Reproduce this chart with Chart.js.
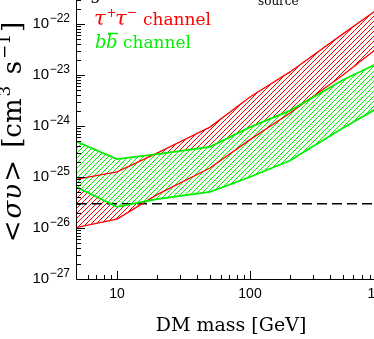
<!DOCTYPE html>
<html><head><meta charset="utf-8">
<script src="https://cdn.jsdelivr.net/npm/chart.js@4"></script>
<style>
html,body{margin:0;padding:0;background:#fff;overflow:hidden;width:374px;height:339px;}
#wrap{position:absolute;left:0;top:-40px;width:420px;height:380px;}
</style></head><body>
<div id="wrap"><canvas id="c" width="420" height="380"></canvas></div>
<script>
// ---- data ----
const masses   = [5, 10, 20, 50, 100, 200, 500, 1000];           // GeV
const tauUpper = [9.1e-26, 1.26e-25, 2.95e-25, 9.5e-25, 3.7e-24, 1.15e-23, 6.4e-23, 2.3e-22];
const tauLower = [1.03e-26, 1.5e-26, 4.5e-26, 1.5e-25, 5.4e-25, 1.8e-24, 1.0e-23, 4.1e-23];
const bbUpper  = [4.9e-25, 2.25e-25, 2.8e-25, 3.9e-25, 9.5e-25, 2.0e-24, 8.0e-24, 1.9e-23];
const bbLower  = [6.3e-26, 2.6e-26, 3.7e-26, 5.1e-26, 1.0e-25, 2.1e-25, 9.1e-25, 2.6e-24];
const thermalMass  = [5, 1000];
const thermalValue = [3e-26, 3e-26];

const xMajorTicks  = [10, 100, 1000];
const xMajorLabels = ['10', '100', '1000'];
const xMinorTicks  = [6,7,8,9,20,30,40,50,60,70,80,90,200,300,400,500,600,700,800,900];
const yMajorTicks  = [1e-27, 1e-26, 1e-25, 1e-24, 1e-23, 1e-22, 1e-21];
const yMajorExps   = ['−27', '−26', '−25', '−24', '−23', '−22', '−21'];
const yMinorMults  = [2,3,4,5,6,7,8,9];

const RED = '#ff0000', GREEN = '#00f000';
const canvas = document.getElementById('c');
const ctx0 = canvas.getContext('2d');

function hatch(color, bg) {
  const s = 5;
  const c = document.createElement('canvas'); c.width = s; c.height = s;
  const g = c.getContext('2d');
  if (bg) { g.fillStyle = bg; g.fillRect(0, 0, s, s); }
  g.strokeStyle = color; g.lineWidth = 1;
  g.beginPath();
  g.moveTo(0, s); g.lineTo(s, 0);
  g.moveTo(-1, 1); g.lineTo(1, -1);
  g.moveTo(s - 1, s + 1); g.lineTo(s + 1, s - 1);
  g.stroke();
  return ctx0.createPattern(c, 'repeat');
}
const pts = (xs, ys) => xs.map((m, i) => ({x: m, y: ys[i]}));

function pieces(ctx, list, x, y) {
  let cx = x;
  for (const p of list) {
    ctx.font = p.f;
    ctx.fillText(p.t, cx + (p.dx || 0), y + (p.dy || 0));
    cx += ctx.measureText(p.t).width + (p.dx || 0);
  }
  return cx;
}
function widthOf(ctx, list) {
  let w = 0;
  for (const p of list) { ctx.font = p.f; w += ctx.measureText(p.t).width + (p.dx || 0); }
  return w;
}

const decor = {
  id: 'decor',
  afterDraw(chart) {
    const {ctx, chartArea: a, scales: {x, y}} = chart;
    ctx.save();
    ctx.strokeStyle = '#000'; ctx.fillStyle = '#000'; ctx.lineWidth = 1;
    // frame
    ctx.beginPath();
    ctx.moveTo(a.left - 0.5, a.top); ctx.lineTo(a.left - 0.5, a.bottom + 0.5);
    ctx.lineTo(a.right, a.bottom + 0.5); ctx.lineTo(a.right, a.top); ctx.lineTo(a.left - 0.5, a.top);
    ctx.stroke();
    // x ticks (inward)
    ctx.beginPath();
    xMajorTicks.forEach(v => { const px = Math.round(x.getPixelForValue(v)) + 0.5; ctx.moveTo(px, a.bottom); ctx.lineTo(px, a.bottom - 8); ctx.moveTo(px, a.top); ctx.lineTo(px, a.top + 8); });
    xMinorTicks.forEach(v => { const px = Math.round(x.getPixelForValue(v)) + 0.5; ctx.moveTo(px, a.bottom); ctx.lineTo(px, a.bottom - 4); ctx.moveTo(px, a.top); ctx.lineTo(px, a.top + 4); });
    // y ticks (inward)
    yMajorTicks.forEach(v => { const py = Math.round(y.getPixelForValue(v)) + 0.5; ctx.moveTo(a.left, py); ctx.lineTo(a.left + 8, py); });
    yMajorTicks.slice(0, -1).forEach(v => yMinorMults.forEach(m => {
      const py = Math.round(y.getPixelForValue(v * m)) + 0.5; ctx.moveTo(a.left, py); ctx.lineTo(a.left + 4, py);
    }));
    ctx.stroke();
    // x tick labels
    ctx.textAlign = 'center'; ctx.textBaseline = 'alphabetic';
    ctx.font = '14px "Liberation Sans"';
    xMajorTicks.forEach((v, i) => ctx.fillText(xMajorLabels[i], x.getPixelForValue(v), a.bottom + 19));
    // y tick labels
    yMajorTicks.forEach((v, i) => {
      const py = y.getPixelForValue(v);
      ctx.font = '12px "Liberation Sans"';
      const sw = ctx.measureText(yMajorExps[i]).width;
      const sx = 70 - sw;
      ctx.textAlign = 'left'; ctx.fillText(yMajorExps[i], sx, py - 2);
      ctx.font = '15px "Liberation Sans"'; ctx.textAlign = 'right';
      ctx.fillText('10', sx - 0.5, py + 4);
    });
    ctx.textAlign = 'left';
    // axis titles
    ctx.font = '19px "DejaVu Serif"';
    const xt = 'DM mass [GeV]';
    ctx.fillText(xt, 231 - ctx.measureText(xt).width / 2, a.bottom + 52);
    const F = '26px "DejaVu Serif"', FI = 'italic 26px "DejaVu Serif"', FS = '17px "DejaVu Serif"';
    const ylab = [
      {t: '<', f: F},
      {t: 'σ', f: FI, dx: 2},
      {t: 'υ', f: FI, dx: 1},
      {t: '>', f: F, dx: 2},
      {t: ' [cm', f: F, dx: 4},
      {t: '3', f: FS, dy: -11, dx: 2},
      {t: ' s', f: F, dx: 3},
      {t: '−1', f: FS, dy: -11, dx: 2},
      {t: ']', f: F, dx: 2}
    ];
    ctx.save();
    ctx.translate(21, 172); ctx.rotate(-Math.PI / 2);
    const tw = widthOf(ctx, ylab);
    pieces(ctx, ylab, -tw / 2, 0);
    ctx.restore();
    // annotations (top line is mostly cropped in the reference)
    const serif = '17px "DejaVu Serif"', small = '12px "DejaVu Serif"';
    ctx.fillStyle = '#000';
    ctx.font = serif;
    ctx.fillText('Using', 101 - ctx.measureText('Using').width, 39);
    ctx.fillText('the total', 110, 39);
    ctx.textAlign = 'right'; ctx.fillText('J', 257, 36); ctx.textAlign = 'left';
    ctx.font = small; ctx.fillText('source', 258, 44.5);

    ctx.fillStyle = RED;
    ctx.font = 'italic 21px "DejaVu Serif"'; ctx.fillText('τ', 94, 64.5); ctx.fillText('τ', 115, 64.5);
    ctx.font = '12px "DejaVu Serif"'; ctx.fillText('+', 106.5, 57); ctx.fillText('−', 127, 55.5);
    ctx.font = serif; ctx.fillText('channel', 143, 64.5);

    ctx.fillStyle = GREEN; ctx.strokeStyle = GREEN;
    ctx.font = 'italic 18px "DejaVu Serif"'; ctx.fillText('b', 95, 88); ctx.fillText('b', 106, 88);
    ctx.lineWidth = 1.5; ctx.beginPath(); ctx.moveTo(108, 73.5); ctx.lineTo(118, 73.5); ctx.stroke();
    ctx.font = serif; ctx.fillText('channel', 123, 88);
    ctx.restore();
  }
};

new Chart(canvas, {
  type: 'line',
  data: {
    datasets: [
      {data: pts(masses, bbUpper), borderColor: GREEN, borderWidth: 1.8, fill: '+1', backgroundColor: hatch(GREEN, '#ffffff')},
      {data: pts(masses, bbLower), borderColor: GREEN, borderWidth: 1.8, fill: false},
      {data: pts(masses, tauUpper), borderColor: RED, borderWidth: 1.3, fill: '+1', backgroundColor: hatch(RED, null)},
      {data: pts(masses, tauLower), borderColor: RED, borderWidth: 1.3, fill: false},
      {data: pts(thermalMass, thermalValue), borderColor: '#000', borderWidth: 1.5, borderDash: [10, 5], fill: false}
    ]
  },
  options: {
    responsive: false, animation: false, devicePixelRatio: 1,
    layout: {padding: {left: 77, top: 13, right: 37, bottom: 61}},
    scales: {
      x: {type: 'logarithmic', min: 5, max: 1000, display: false},
      y: {type: 'logarithmic', min: 1e-27, max: 1e-21, display: false}
    },
    elements: {point: {radius: 0}, line: {tension: 0}},
    plugins: {legend: {display: false}, tooltip: {enabled: false}, filler: {drawTime: 'beforeDatasetsDraw', propagate: false}}
  },
  plugins: [decor]
});
</script>
</body></html>
